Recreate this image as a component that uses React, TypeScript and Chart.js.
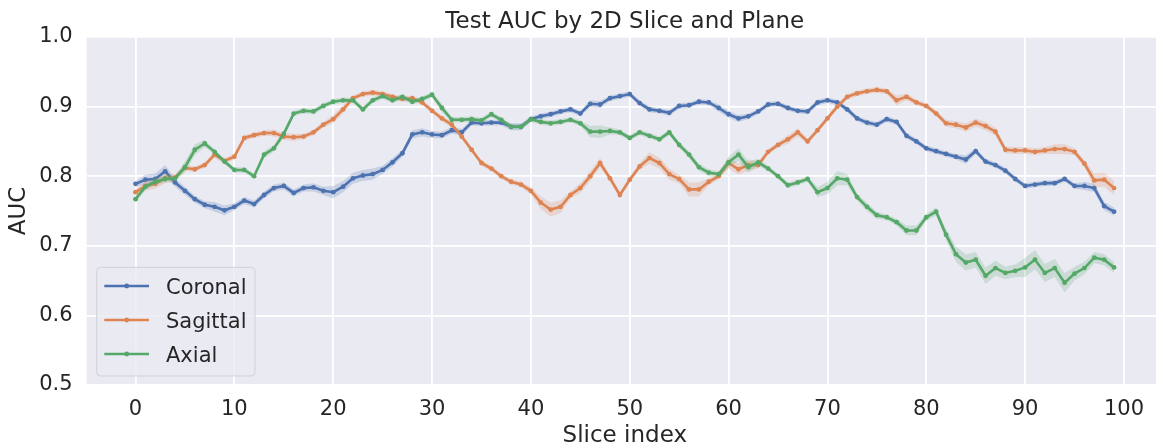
import React, { useEffect, useRef } from "react";
import { Chart, registerables } from "chart.js";

Chart.register(...registerables);

// Slice positions along the scan axis
const SLICES = Array.from({ length: 100 }, (_, i) => i);

// Mean test AUC per slice
const CORONAL = [
  0.789, 0.795, 0.796, 0.807, 0.791, 0.779, 0.767, 0.759, 0.756, 0.751,
  0.756, 0.765, 0.760, 0.773, 0.783, 0.786, 0.776, 0.783, 0.784, 0.779,
  0.777, 0.785, 0.797, 0.801, 0.803, 0.809, 0.820, 0.833, 0.860, 0.863,
  0.860, 0.859, 0.866, 0.863, 0.877, 0.876, 0.877, 0.877, 0.871, 0.871,
  0.882, 0.886, 0.889, 0.893, 0.896, 0.890, 0.904, 0.903, 0.912, 0.915,
  0.918, 0.905, 0.896, 0.894, 0.891, 0.901, 0.902, 0.907, 0.906, 0.898,
  0.889, 0.883, 0.886, 0.893, 0.903, 0.904, 0.898, 0.894, 0.893, 0.906,
  0.909, 0.906, 0.896, 0.883, 0.877, 0.874, 0.882, 0.878, 0.858, 0.850,
  0.840, 0.836, 0.832, 0.828, 0.824, 0.836, 0.821, 0.816, 0.808, 0.796,
  0.786, 0.788, 0.790, 0.790, 0.796, 0.786, 0.786, 0.783, 0.757, 0.749,
];

const SAGITTAL = [
  0.777, 0.786, 0.789, 0.797, 0.798, 0.812, 0.810, 0.816, 0.831, 0.822,
  0.828, 0.855, 0.859, 0.862, 0.862, 0.857, 0.856, 0.857, 0.863, 0.874,
  0.882, 0.896, 0.912, 0.918, 0.920, 0.918, 0.914, 0.911, 0.912, 0.906,
  0.894, 0.883, 0.874, 0.857, 0.838, 0.819, 0.811, 0.800, 0.792, 0.788,
  0.779, 0.762, 0.752, 0.756, 0.773, 0.783, 0.800, 0.819, 0.797, 0.773,
  0.795, 0.814, 0.826, 0.819, 0.803, 0.796, 0.781, 0.781, 0.792, 0.800,
  0.819, 0.810, 0.816, 0.816, 0.835, 0.845, 0.853, 0.863, 0.850, 0.866,
  0.883, 0.900, 0.914, 0.919, 0.922, 0.924, 0.922, 0.909, 0.914, 0.906,
  0.901, 0.890, 0.876, 0.874, 0.870, 0.877, 0.872, 0.864, 0.838, 0.837,
  0.837, 0.835, 0.837, 0.839, 0.839, 0.835, 0.818, 0.794, 0.795, 0.783,
];

const AXIAL = [
  0.767, 0.785, 0.792, 0.796, 0.797, 0.813, 0.838, 0.847, 0.835, 0.821,
  0.809, 0.809, 0.800, 0.831, 0.840, 0.861, 0.890, 0.894, 0.893, 0.901,
  0.907, 0.909, 0.909, 0.896, 0.909, 0.915, 0.909, 0.914, 0.907, 0.911,
  0.917, 0.898, 0.881, 0.881, 0.882, 0.880, 0.889, 0.881, 0.871, 0.871,
  0.882, 0.878, 0.876, 0.878, 0.881, 0.876, 0.864, 0.864, 0.865, 0.863,
  0.855, 0.863, 0.858, 0.853, 0.863, 0.845, 0.831, 0.813, 0.805, 0.803,
  0.820, 0.831, 0.813, 0.820, 0.811, 0.800, 0.787, 0.791, 0.796, 0.777,
  0.783, 0.797, 0.795, 0.770, 0.756, 0.744, 0.741, 0.734, 0.722, 0.722,
  0.741, 0.749, 0.716, 0.688, 0.676, 0.680, 0.657, 0.668, 0.661, 0.664,
  0.669, 0.680, 0.661, 0.668, 0.647, 0.660, 0.668, 0.683, 0.680, 0.669,
];

// Half-width of the confidence band per slice
const CORONAL_ERR = [
  0.004, 0.007, 0.008, 0.009, 0.006, 0.006, 0.005, 0.005, 0.007, 0.007,
  0.005, 0.005, 0.005, 0.005, 0.005, 0.005, 0.005, 0.005, 0.006, 0.006,
  0.009, 0.008, 0.008, 0.008, 0.008, 0.006, 0.006, 0.005, 0.006, 0.006,
  0.005, 0.005, 0.005, 0.005, 0.004, 0.004, 0.004, 0.004, 0.005, 0.005,
  0.004, 0.004, 0.004, 0.004, 0.004, 0.004, 0.005, 0.005, 0.004, 0.004,
  0.004, 0.004, 0.004, 0.004, 0.004, 0.004, 0.004, 0.004, 0.004, 0.005,
  0.005, 0.005, 0.004, 0.004, 0.004, 0.004, 0.004, 0.004, 0.004, 0.004,
  0.004, 0.004, 0.004, 0.004, 0.004, 0.004, 0.004, 0.004, 0.004, 0.004,
  0.004, 0.004, 0.004, 0.004, 0.006, 0.004, 0.004, 0.004, 0.004, 0.004,
  0.004, 0.004, 0.004, 0.004, 0.004, 0.004, 0.006, 0.006, 0.006, 0.006,
];

const SAGITTAL_ERR = [
  0.004, 0.007, 0.007, 0.007, 0.005, 0.004, 0.004, 0.004, 0.005, 0.004,
  0.004, 0.004, 0.004, 0.004, 0.005, 0.005, 0.005, 0.004, 0.004, 0.004,
  0.006, 0.006, 0.004, 0.004, 0.004, 0.004, 0.004, 0.004, 0.004, 0.004,
  0.004, 0.004, 0.004, 0.004, 0.004, 0.004, 0.004, 0.004, 0.004, 0.004,
  0.005, 0.009, 0.010, 0.009, 0.005, 0.007, 0.007, 0.007, 0.004, 0.004,
  0.004, 0.005, 0.008, 0.008, 0.008, 0.006, 0.010, 0.010, 0.005, 0.004,
  0.008, 0.008, 0.008, 0.005, 0.004, 0.004, 0.006, 0.006, 0.004, 0.004,
  0.004, 0.004, 0.004, 0.004, 0.004, 0.004, 0.004, 0.007, 0.005, 0.004,
  0.004, 0.004, 0.005, 0.005, 0.006, 0.006, 0.006, 0.006, 0.005, 0.005,
  0.005, 0.005, 0.005, 0.007, 0.007, 0.005, 0.005, 0.010, 0.010, 0.010,
];

const AXIAL_ERR = [
  0.005, 0.005, 0.005, 0.005, 0.004, 0.008, 0.008, 0.005, 0.004, 0.004,
  0.004, 0.004, 0.004, 0.005, 0.005, 0.005, 0.004, 0.004, 0.004, 0.004,
  0.004, 0.004, 0.004, 0.004, 0.004, 0.004, 0.004, 0.004, 0.004, 0.004,
  0.004, 0.006, 0.004, 0.004, 0.004, 0.004, 0.004, 0.004, 0.004, 0.004,
  0.004, 0.004, 0.004, 0.004, 0.004, 0.004, 0.008, 0.009, 0.005, 0.004,
  0.004, 0.004, 0.004, 0.004, 0.004, 0.004, 0.005, 0.005, 0.005, 0.004,
  0.008, 0.009, 0.008, 0.005, 0.004, 0.004, 0.004, 0.004, 0.004, 0.007,
  0.009, 0.010, 0.008, 0.005, 0.006, 0.005, 0.004, 0.005, 0.007, 0.007,
  0.005, 0.006, 0.008, 0.011, 0.012, 0.011, 0.012, 0.011, 0.009, 0.009,
  0.014, 0.014, 0.013, 0.013, 0.014, 0.010, 0.009, 0.008, 0.008, 0.008,
];

const X_TICKS = [0, 10, 20, 30, 40, 50, 60, 70, 80, 90, 100];
const Y_TICKS = [0.5, 0.6, 0.7, 0.8, 0.9, 1.0];

const TITLE = "Test AUC by 2D Slice and Plane";
const X_LABEL = "Slice index";
const Y_LABEL = "AUC";

const FONT = "'DejaVu Sans', sans-serif";
const TEXT = "#262626";

const SERIES = [
  { name: "Coronal", mean: CORONAL, err: CORONAL_ERR, rgb: "76,114,176" },
  { name: "Sagittal", mean: SAGITTAL, err: SAGITTAL_ERR, rgb: "221,132,82" },
  { name: "Axial", mean: AXIAL, err: AXIAL_ERR, rgb: "85,168,104" },
];

const W = 1159;
const H = 440;

const plotBackground = {
  id: "plotBackground",
  beforeDraw(chart: any) {
    const { ctx, chartArea: a } = chart;
    ctx.save();
    ctx.fillStyle = "#EAEAF2";
    ctx.fillRect(a.left, a.top, a.right - a.left, a.bottom - a.top);
    ctx.restore();
  },
};

const plotTitle = {
  id: "plotTitle",
  afterDraw(chart: any) {
    const { ctx, chartArea: a } = chart;
    ctx.save();
    ctx.font = `23px ${FONT}`;
    ctx.fillStyle = TEXT;
    ctx.textAlign = "center";
    ctx.textBaseline = "alphabetic";
    ctx.fillText(TITLE, (a.left + a.right) / 2, 19.5);
    ctx.restore();
  },
};

const insetLegend = {
  id: "insetLegend",
  afterDraw(chart: any) {
    const { ctx } = chart;
    const x = 88.7;
    const y = 259.3;
    const w = 158.3;
    const h = 108.7;
    const r = 4;
    ctx.save();
    ctx.beginPath();
    ctx.moveTo(x + r, y);
    ctx.lineTo(x + w - r, y);
    ctx.arcTo(x + w, y, x + w, y + r, r);
    ctx.lineTo(x + w, y + h - r);
    ctx.arcTo(x + w, y + h, x + w - r, y + h, r);
    ctx.lineTo(x + r, y + h);
    ctx.arcTo(x, y + h, x, y + h - r, r);
    ctx.lineTo(x, y + r);
    ctx.arcTo(x, y, x + r, y, r);
    ctx.closePath();
    ctx.fillStyle = "rgba(234,234,242,0.8)";
    ctx.fill();
    ctx.strokeStyle = "rgba(204,204,204,0.8)";
    ctx.lineWidth = 1;
    ctx.stroke();

    const rows = [278, 312, 346];
    SERIES.forEach((s, i) => {
      const ry = rows[i];
      ctx.strokeStyle = `rgb(${s.rgb})`;
      ctx.lineWidth = 2.6;
      ctx.beginPath();
      ctx.moveTo(96.3, ry);
      ctx.lineTo(141, ry);
      ctx.stroke();
      ctx.fillStyle = `rgb(${s.rgb})`;
      ctx.beginPath();
      ctx.arc(118.7, ry, 2.4, 0, Math.PI * 2);
      ctx.fill();
      ctx.font = `21px ${FONT}`;
      ctx.fillStyle = TEXT;
      ctx.textAlign = "left";
      ctx.textBaseline = "alphabetic";
      ctx.fillText(s.name, 158, ry + 7.6);
    });
    ctx.restore();
  },
};

export default function App() {
  const canvasRef = useRef<HTMLCanvasElement | null>(null);

  useEffect(() => {
    const canvas = canvasRef.current;
    if (!canvas) return;

    const n = SERIES.length;
    const lineSets = SERIES.map((s, i) => ({
      label: s.name,
      data: SLICES.map((x, k) => ({ x, y: s.mean[k] })),
      borderColor: `rgb(${s.rgb})`,
      backgroundColor: `rgb(${s.rgb})`,
      borderWidth: 2.6,
      pointRadius: 2.4,
      pointBorderWidth: 0,
      pointBackgroundColor: `rgb(${s.rgb})`,
      tension: 0,
      fill: false,
      order: 2 * (n - i) - 1,
    }));
    const bandSets: any[] = [];
    SERIES.forEach((s, i) => {
      bandSets.push({
        label: `${s.name} upper`,
        data: SLICES.map((x, k) => ({ x, y: s.mean[k] + s.err[k] })),
        borderWidth: 0,
        pointRadius: 0,
        backgroundColor: `rgba(${s.rgb},0.22)`,
        fill: "+1",
        order: 2 * (n - i),
      });
      bandSets.push({
        label: `${s.name} lower`,
        data: SLICES.map((x, k) => ({ x, y: s.mean[k] - s.err[k] })),
        borderWidth: 0,
        pointRadius: 0,
        backgroundColor: "rgba(0,0,0,0)",
        fill: false,
        order: 2 * (n - i),
      });
    });

    const chart = new Chart(canvas, {
      type: "line",
      data: { datasets: [...lineSets, ...bandSets] as any },
      options: {
        animation: false,
        responsive: false,
        devicePixelRatio: 1,
        events: [],
        layout: { padding: { top: 29, left: 0, right: 0, bottom: 0 } },
        plugins: {
          legend: { display: false },
          title: { display: false },
          tooltip: { enabled: false },
        },
        scales: {
          x: {
            type: "linear",
            min: -4.95,
            max: 103.95,
            afterBuildTicks: (s: any) => {
              s.ticks = X_TICKS.map((v) => ({ value: v }));
            },
            afterFit: (s: any) => {
              s.height = 63;
            },
            grid: { color: "#ffffff", lineWidth: 1.8, drawTicks: false },
            border: { display: false },
            ticks: {
              color: TEXT,
              font: { family: FONT, size: 21 },
              padding: 12,
              maxRotation: 0,
              autoSkip: false,
              callback: (v: any) => String(v),
            },
            title: {
              display: true,
              text: X_LABEL,
              color: TEXT,
              font: { family: FONT, size: 23, lineHeight: 1 },
              padding: 0,
            },
          },
          y: {
            type: "linear",
            min: 0.5,
            max: 1.0,
            afterBuildTicks: (s: any) => {
              s.ticks = Y_TICKS.map((v) => ({ value: v }));
            },
            afterFit: (s: any) => {
              s.width = 78.6;
            },
            grid: { color: "#ffffff", lineWidth: 1.8, drawTicks: false },
            border: { display: false },
            ticks: {
              color: TEXT,
              font: { family: FONT, size: 21 },
              padding: 14,
              callback: (v: any) => Number(v).toFixed(1),
            },
            title: {
              display: true,
              text: Y_LABEL,
              color: TEXT,
              font: { family: FONT, size: 23, lineHeight: 1 },
              padding: 0,
            },
          },
        },
      },
      plugins: [plotBackground, plotTitle, insetLegend],
    });

    return () => chart.destroy();
  }, []);

  return (
    <div style={{ width: 1156, height: H, overflow: "hidden" }}>
      <canvas
        ref={canvasRef}
        width={W}
        height={H}
        style={{ display: "block", width: W, height: H }}
      />
    </div>
  );
}
